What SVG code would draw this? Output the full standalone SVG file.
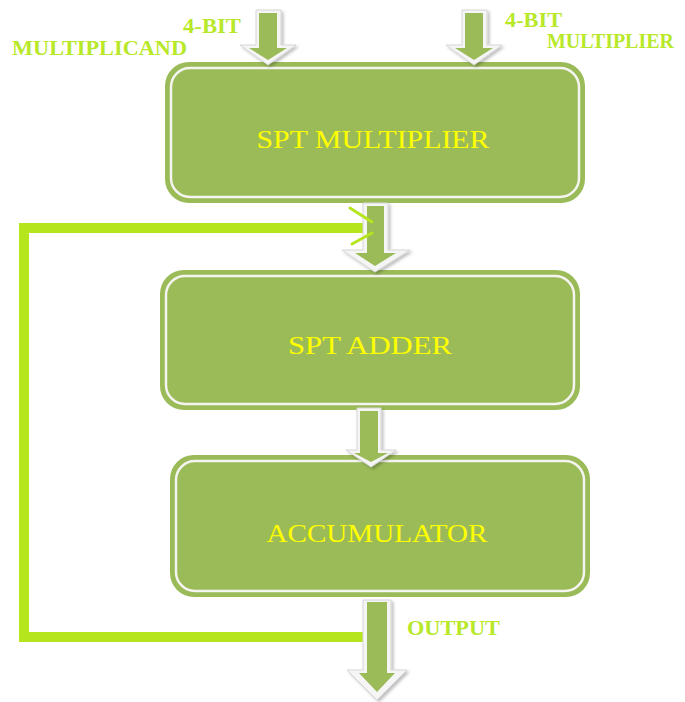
<svg xmlns="http://www.w3.org/2000/svg" width="685" height="702" viewBox="0 0 685 702">
<defs>
<style>
.box{fill:#9bbb59;}
.inner{fill:none;stroke:#f4f4f0;stroke-width:2.5;}
.btxt{font-family:"Liberation Serif","Times New Roman",serif;font-size:26px;fill:#ffff00;text-anchor:middle;}
.lbl{font-family:"Liberation Serif","Times New Roman",serif;font-size:20px;font-weight:bold;fill:#b8e82a;}
.aout{fill:#f5f5f5;stroke:#d6d6d6;stroke-width:1;filter:url(#sh);}
.ain{fill:#9bbb59;}
.fb{fill:none;stroke:#b5e61d;stroke-width:10;stroke-linejoin:miter;}
.chev{fill:none;stroke:#b5e61d;stroke-width:3;stroke-linecap:round;}
</style>
<filter id="sh" x="-30%" y="-30%" width="160%" height="160%">
<feDropShadow dx="2" dy="2" stdDeviation="1.5" flood-color="#000" flood-opacity="0.25"/>
</filter>
</defs>
<rect width="685" height="702" fill="#fff"/>
<g id="node-spt-multiplier">
<rect class="box" x="165" y="62" width="420" height="141" rx="24"/>
<rect class="inner" x="171" y="68" width="408" height="129" rx="19"/>
<text class="btxt" x="373" y="148" textLength="233" lengthAdjust="spacingAndGlyphs">SPT MULTIPLIER</text>
</g>
<g id="node-spt-adder">
<rect class="box" x="160" y="270" width="420" height="140" rx="24"/>
<rect class="inner" x="166" y="276" width="408" height="128" rx="19"/>
<text class="btxt" x="370" y="354" textLength="164" lengthAdjust="spacingAndGlyphs">SPT ADDER</text>
</g>
<g id="node-accumulator">
<rect class="box" x="170" y="455" width="420" height="142" rx="24"/>
<rect class="inner" x="176" y="461" width="408" height="130" rx="19"/>
<text class="btxt" x="377" y="542" textLength="221" lengthAdjust="spacingAndGlyphs">ACCUMULATOR</text>
</g>
<g id="labels">
<text class="lbl" x="183" y="33" textLength="58" lengthAdjust="spacingAndGlyphs">4-BIT</text>
<text class="lbl" x="12" y="55" textLength="175" lengthAdjust="spacingAndGlyphs">MULTIPLICAND</text>
<text class="lbl" x="505" y="27" textLength="57" lengthAdjust="spacingAndGlyphs">4-BIT</text>
<text class="lbl" x="547" y="48" textLength="127" lengthAdjust="spacingAndGlyphs">MULTIPLIER</text>
<text class="lbl" x="407" y="635" textLength="93" lengthAdjust="spacingAndGlyphs">OUTPUT</text>
</g>
<g id="connectors">
<polyline class="fb" points="372,637 24,637 24,228 372,228"/>
<path class="aout" d="M256,10 H281 V45 H296 L268,65 L240,45 H256 Z"/>
<path class="ain" d="M259,13 H277 V48 H287 L268,60 L249,48 H259 Z"/>
<path class="aout" d="M462,10 H487 V45 H502 L474,65 L446,45 H462 Z"/>
<path class="ain" d="M465,13 H483 V48 H493 L474,60 L455,48 H465 Z"/>
<path class="aout" d="M363,203 H388 V250 H410 L375,272 L342,250 H363 Z"/>
<path class="ain" d="M367,206 H384 V253 H396 L375,266 L355,253 H367 Z"/>
<path class="aout" d="M357,408 H381 V450 H396 L371,467 L346,450 H357 Z"/>
<path class="ain" d="M360,411 H378 V453 H388 L371,462 L354,453 H360 Z"/>
<path class="aout" d="M363,600 H391 V670 H407 L377,700 L347,670 H363 Z"/>
<path class="ain" d="M367,602 H387 V673 H395 L377,692 L359,673 H367 Z"/>
<line class="chev" x1="350" y1="208" x2="372" y2="222"/>
<line class="chev" x1="352" y1="244" x2="372" y2="233"/>
</g>
</svg>
